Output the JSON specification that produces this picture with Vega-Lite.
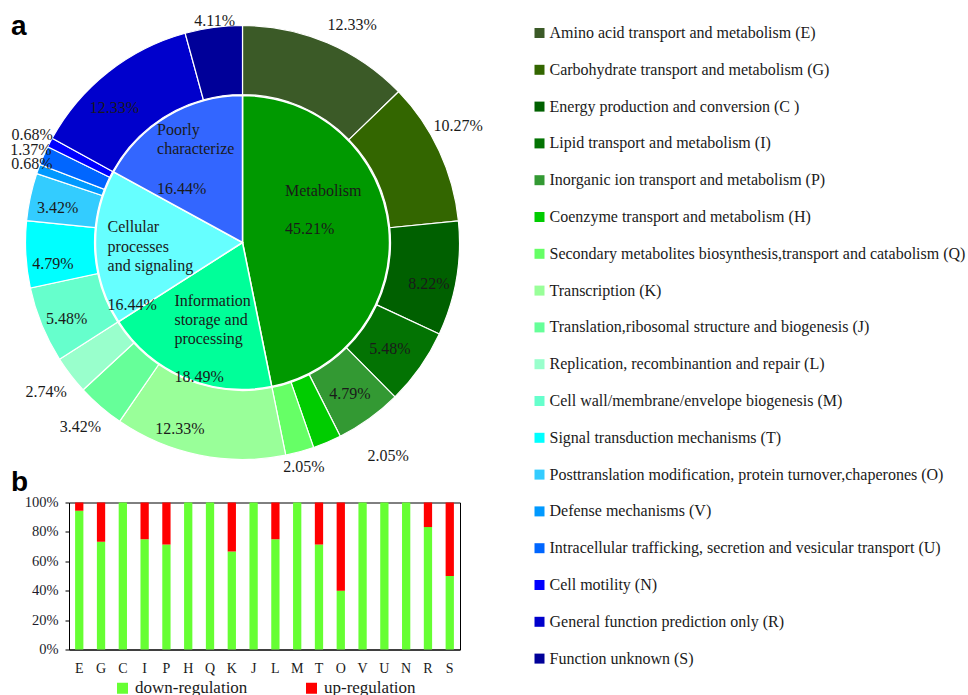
{
  "$schema": "https://vega.github.io/schema/vega-lite/v6.json",
  "background": "white",
  "padding": {"left": 10, "top": 12.5, "right": 0, "bottom": 0},
  "bounds": "flush",
  "spacing": 40,
  "config": {
    "view": {"stroke": null},
    "font": "Liberation Serif",
    "text": {"font": "Liberation Serif", "fontSize": 16, "color": "#1a1a1a"}
  },
  "datasets": {
    "cog": [
      {"idx": 1, "code": "E", "category": "Amino acid transport and metabolism (E)", "share": 0.1233},
      {"idx": 2, "code": "G", "category": "Carbohydrate transport and metabolism (G)", "share": 0.1027},
      {"idx": 3, "code": "C", "category": "Energy production and conversion (C )", "share": 0.0822},
      {"idx": 4, "code": "I", "category": "Lipid transport and metabolism (I)", "share": 0.0548},
      {"idx": 5, "code": "P", "category": "Inorganic ion transport and metabolism (P)", "share": 0.0479},
      {"idx": 6, "code": "H", "category": "Coenzyme transport and metabolism (H)", "share": 0.0205},
      {"idx": 7, "code": "Q", "category": "Secondary metabolites biosynthesis,transport and catabolism (Q)", "share": 0.0205},
      {"idx": 8, "code": "K", "category": "Transcription (K)", "share": 0.1233},
      {"idx": 9, "code": "J", "category": "Translation,ribosomal structure and  biogenesis  (J)", "share": 0.0342},
      {"idx": 10, "code": "L", "category": "Replication, recombinantion and repair (L)", "share": 0.0274},
      {"idx": 11, "code": "M", "category": "Cell wall/membrane/envelope biogenesis (M)", "share": 0.0548},
      {"idx": 12, "code": "T", "category": "Signal transduction mechanisms (T)", "share": 0.0479},
      {"idx": 13, "code": "O", "category": "Posttranslation modification, protein turnover,chaperones (O)", "share": 0.0342},
      {"idx": 14, "code": "V", "category": "Defense mechanisms (V)", "share": 0.0068},
      {"idx": 15, "code": "U", "category": "Intracellular trafficking, secretion and vesicular transport (U)", "share": 0.0137},
      {"idx": 16, "code": "N", "category": "Cell motility (N)", "share": 0.0068},
      {"idx": 17, "code": "R", "category": "General function prediction only (R)", "share": 0.1233},
      {"idx": 18, "code": "S", "category": "Function unknown  (S)", "share": 0.0411}
    ],
    "groups": [
      {"idx": 1, "group": "Metabolism", "name": "Metabolism", "share": 0.4521},
      {"idx": 2, "group": "Information", "name": "Information\nstorage and\nprocessing", "share": 0.1849},
      {"idx": 3, "group": "Cellular", "name": "Cellular\nprocesses\nand signaling", "share": 0.1644},
      {"idx": 4, "group": "Poorly", "name": "Poorly\ncharacterize", "share": 0.1644}
    ],
    "regulation": [
      {"code": "E", "regulation": "down-regulation", "percent": 94.4},
      {"code": "E", "regulation": "up-regulation", "percent": 5.6},
      {"code": "G", "regulation": "down-regulation", "percent": 73.3},
      {"code": "G", "regulation": "up-regulation", "percent": 26.7},
      {"code": "C", "regulation": "down-regulation", "percent": 100},
      {"code": "C", "regulation": "up-regulation", "percent": 0},
      {"code": "I", "regulation": "down-regulation", "percent": 75},
      {"code": "I", "regulation": "up-regulation", "percent": 25},
      {"code": "P", "regulation": "down-regulation", "percent": 71.4},
      {"code": "P", "regulation": "up-regulation", "percent": 28.6},
      {"code": "H", "regulation": "down-regulation", "percent": 100},
      {"code": "H", "regulation": "up-regulation", "percent": 0},
      {"code": "Q", "regulation": "down-regulation", "percent": 100},
      {"code": "Q", "regulation": "up-regulation", "percent": 0},
      {"code": "K", "regulation": "down-regulation", "percent": 66.7},
      {"code": "K", "regulation": "up-regulation", "percent": 33.3},
      {"code": "J", "regulation": "down-regulation", "percent": 100},
      {"code": "J", "regulation": "up-regulation", "percent": 0},
      {"code": "L", "regulation": "down-regulation", "percent": 75},
      {"code": "L", "regulation": "up-regulation", "percent": 25},
      {"code": "M", "regulation": "down-regulation", "percent": 100},
      {"code": "M", "regulation": "up-regulation", "percent": 0},
      {"code": "T", "regulation": "down-regulation", "percent": 71.4},
      {"code": "T", "regulation": "up-regulation", "percent": 28.6},
      {"code": "O", "regulation": "down-regulation", "percent": 40},
      {"code": "O", "regulation": "up-regulation", "percent": 60},
      {"code": "V", "regulation": "down-regulation", "percent": 100},
      {"code": "V", "regulation": "up-regulation", "percent": 0},
      {"code": "U", "regulation": "down-regulation", "percent": 100},
      {"code": "U", "regulation": "up-regulation", "percent": 0},
      {"code": "N", "regulation": "down-regulation", "percent": 100},
      {"code": "N", "regulation": "up-regulation", "percent": 0},
      {"code": "R", "regulation": "down-regulation", "percent": 83.3},
      {"code": "R", "regulation": "up-regulation", "percent": 16.7},
      {"code": "S", "regulation": "down-regulation", "percent": 50},
      {"code": "S", "regulation": "up-regulation", "percent": 50}
    ]
  },
  "vconcat": [
    {
      "width": 347,
      "height": 440,
      "title": {"text": "a", "anchor": "start", "frame": "group", "font": "Liberation Sans", "fontSize": 28, "fontWeight": "bold", "color": "#000000", "baseline": "alphabetic", "offset": -28.5, "dy": 22, "dx": -58},
      "resolve": {"scale": {"color": "independent", "theta": "independent"}},
      "layer": [
        {
          "data": {"name": "groups"},
          "mark": {"type": "arc", "outerRadius": 147, "innerRadius": 0, "stroke": "white", "strokeWidth": 1.5},
          "encoding": {
            "theta": {"field": "share", "type": "quantitative", "stack": true},
            "order": {"field": "idx", "type": "quantitative"},
            "color": {
              "field": "group", "type": "nominal", "legend": null,
              "scale": {"domain": ["Metabolism", "Information", "Cellular", "Poorly"], "range": ["#009900", "#00ff99", "#66ffff", "#3366ff"]}
            }
          }
        },
        {
          "data": {"name": "cog"},
          "mark": {"type": "arc", "innerRadius": 148, "outerRadius": 217, "stroke": "white", "strokeWidth": 1.2},
          "encoding": {
            "theta": {"field": "share", "type": "quantitative", "stack": true},
            "order": {"field": "idx", "type": "quantitative"},
            "color": {
              "field": "category", "type": "nominal",
              "scale": {
                "domain": [
                  "Amino acid transport and metabolism (E)",
                  "Carbohydrate transport and metabolism (G)",
                  "Energy production and conversion (C )",
                  "Lipid transport and metabolism (I)",
                  "Inorganic ion transport and metabolism (P)",
                  "Coenzyme transport and metabolism (H)",
                  "Secondary metabolites biosynthesis,transport and catabolism (Q)",
                  "Transcription (K)",
                  "Translation,ribosomal structure and  biogenesis  (J)",
                  "Replication, recombinantion and repair (L)",
                  "Cell wall/membrane/envelope biogenesis (M)",
                  "Signal transduction mechanisms (T)",
                  "Posttranslation modification, protein turnover,chaperones (O)",
                  "Defense mechanisms (V)",
                  "Intracellular trafficking, secretion and vesicular transport (U)",
                  "Cell motility (N)",
                  "General function prediction only (R)",
                  "Function unknown  (S)"
                ],
                "range": ["#3b5a27", "#336600", "#006000", "#037303", "#339933", "#00cc00", "#66ff66", "#99ff99", "#66ff99", "#99ffcc", "#66ffcc", "#00ffff", "#33ccff", "#0099ff", "#0066ff", "#0000ff", "#0000cc", "#000099"]
              },
              "legend": {
                "orient": "none", "legendX": 462.5, "legendY": 2.5, "title": null,
                "symbolType": "square", "symbolSize": 100, "symbolStrokeWidth": 0,
                "labelFont": "Liberation Serif", "labelFontSize": 16, "labelColor": "#1a1a1a",
                "labelOffset": 2, "labelLimit": 600, "rowPadding": 20.8
              }
            }
          }
        },
        {
          "data": {"name": "cog"},
          "mark": {
            "type": "text", "fontSize": 16, "align": "center", "baseline": "middle",
            "radius": {"expr": "({E: 240, G: 240, C: 184, I: 184, P: 184, H: 240, Q: 233, K: 184, J: 240, L: 248, M: 190, T: 190, O: 189, V: 226, U: 231, N: 237, R: 184, S: 224})[datum.code]"},
            "dx": {"expr": "({E: 16, G: -2, C: 5, I: -3, H: 52, K: -26, J: -5, V: 2, R: -14, S: 2})[datum.code] || 0"},
            "dy": {"expr": "({E: 3, G: -16, C: 11, I: 1, P: 2, H: -7, K: 6, J: 3, L: -2, M: 4, T: 11, O: 5, V: -2, N: 2, R: 10})[datum.code] || 0"}
          },
          "encoding": {
            "theta": {"field": "share", "type": "quantitative", "stack": true},
            "order": {"field": "idx", "type": "quantitative"},
            "detail": {"field": "code", "type": "nominal"},
            "text": {"field": "share", "type": "quantitative", "format": ".2%"}
          }
        },
        {
          "data": {"name": "groups"},
          "mark": {
            "type": "text", "fontSize": 16, "align": "left", "baseline": "middle", "lineBreak": "\n", "lineHeight": 19.3, "radius": 95,
            "dx": {"expr": "({Metabolism: -52, Information: -31, Cellular: -40, Poorly: -37})[datum.group]"},
            "dy": {"expr": "({Metabolism: -42, Information: -29.3, Cellular: -18.3, Poorly: -30.6})[datum.group]"}
          },
          "encoding": {
            "theta": {"field": "share", "type": "quantitative", "stack": true},
            "order": {"field": "idx", "type": "quantitative"},
            "detail": {"field": "group", "type": "nominal"},
            "text": {"field": "name", "type": "nominal"}
          }
        },
        {
          "data": {"name": "groups"},
          "mark": {
            "type": "text", "fontSize": 16, "align": "left", "baseline": "middle", "radius": 95,
            "dx": {"expr": "({Metabolism: -52, Information: -31, Cellular: -40, Poorly: -37})[datum.group]"},
            "dy": {"expr": "({Metabolism: -4, Information: 47, Cellular: 59, Poorly: 28})[datum.group]"}
          },
          "encoding": {
            "theta": {"field": "share", "type": "quantitative", "stack": true},
            "order": {"field": "idx", "type": "quantitative"},
            "detail": {"field": "group", "type": "nominal"},
            "text": {"field": "share", "type": "quantitative", "format": ".2%"}
          }
        }
      ]
    },
    {
      "data": {"name": "regulation"},
      "width": 391,
      "height": 147,
      "view": {"stroke": "#000000", "strokeWidth": 1},
      "title": {"text": "b", "anchor": "start", "frame": "group", "font": "Liberation Sans", "fontSize": 28, "fontWeight": "bold", "color": "#000000", "baseline": "alphabetic", "offset": -24, "dx": -58},
      "mark": {"type": "bar"},
      "encoding": {
        "x": {
          "field": "code", "type": "nominal",
          "sort": ["E", "G", "C", "I", "P", "H", "Q", "K", "J", "L", "M", "T", "O", "V", "U", "N", "R", "S"],
          "scale": {"paddingInner": 0.62, "paddingOuter": 0.28},
          "axis": {"title": null, "labelAngle": 0, "ticks": false, "domainColor": "#000000", "labelFont": "Liberation Serif", "labelFontSize": 14, "labelColor": "#1a1a1a", "labelPadding": 12}
        },
        "y": {
          "field": "percent", "type": "quantitative", "stack": "normalize",
          "scale": {"domain": [0, 1]},
          "axis": {"title": null, "grid": false, "values": [0, 0.2, 0.4, 0.6, 0.8, 1], "format": "%", "tickSize": 4, "labelPadding": 7, "domainColor": "#000000", "tickColor": "#000000", "labelFont": "Liberation Serif", "labelFontSize": 14.5, "labelColor": "#1c1c2c"}
        },
        "order": {"field": "regulation", "type": "nominal"},
        "color": {
          "field": "regulation", "type": "nominal",
          "scale": {"domain": ["down-regulation", "up-regulation"], "range": ["#66ff33", "#ff0000"]},
          "legend": {
            "orient": "none", "legendX": 45, "legendY": 177, "direction": "horizontal", "title": null,
            "symbolType": "square", "symbolSize": 121, "symbolStrokeWidth": 0,
            "labelFont": "Liberation Serif", "labelFontSize": 17, "labelColor": "#1a1a1a", "labelOffset": 4, "columnPadding": 55
          }
        }
      }
    }
  ],
  "resolve": {"scale": {"color": "independent"}, "legend": {"color": "independent"}}
}
